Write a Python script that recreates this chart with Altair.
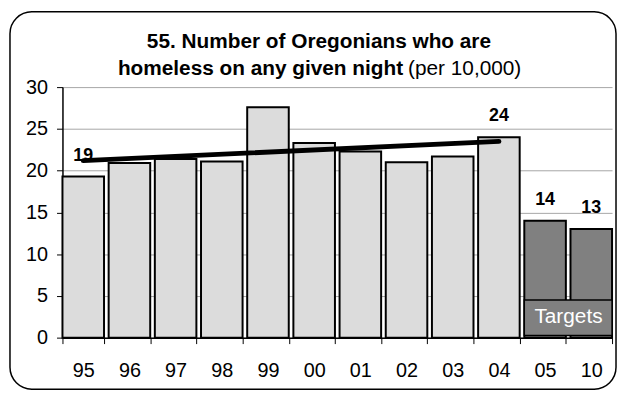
import altair as alt
import pandas as pd

# ---- data ----
years = ["95", "96", "97", "98", "99", "00", "01", "02", "03", "04", "05", "10"]
values = [19.3, 20.9, 21.4, 21.1, 27.6, 23.3, 22.3, 21.0, 21.7, 24.0, 14.0, 13.0]
kinds = ["actual"] * 10 + ["target"] * 2
labels = ["19", "", "", "", "", "", "", "", "", "24", "14", "13"]

trend_years = ["95", "04"]
trend_values = [21.2, 23.5]

title_line1 = "55. Number of Oregonians who are"
title_line2_bold = "homeless on any given night"
title_line2_normal = "(per 10,000)"
targets_text = "Targets"

FONT = "Liberation Sans"

df = pd.DataFrame({"year": years, "value": values, "kind": kinds, "label": labels})
trend_df = pd.DataFrame({"year": trend_years, "value": trend_values})

xscale = alt.Scale(domain=years, paddingInner=0.1, paddingOuter=0)
yscale = alt.Scale(domain=[0, 30])

x_enc = alt.X(
    "year:N",
    sort=years,
    scale=xscale,
    title=None,
    axis=alt.Axis(
        labelAngle=0,
        tickBand="extent",
        tickSize=6,
        labelPadding=17,
        labelFont=FONT,
        labelFontSize=20,
        labelColor="black",
        domainColor="black",
        domainWidth=1.5,
        tickColor="black",
        tickWidth=1,
        grid=False,
    ),
)

y_enc = alt.Y(
    "value:Q",
    scale=yscale,
    title=None,
    axis=alt.Axis(
        values=[0, 5, 10, 15, 20, 25, 30],
        tickSize=6,
        labelPadding=9,
        labelFont=FONT,
        labelFontSize=20,
        labelColor="black",
        domainColor="black",
        domainWidth=1.5,
        tickColor="black",
        gridColor="#a6a6a6",
        gridWidth=1,
    ),
)

bars = alt.Chart(df).mark_bar(stroke="black", strokeWidth=2).encode(
    x=x_enc,
    y=y_enc,
    fill=alt.Fill(
        "kind:N",
        scale=alt.Scale(domain=["actual", "target"], range=["#dcdcdc", "#808080"]),
        legend=None,
    ),
)

trend = alt.Chart(trend_df).mark_line(
    color="black", strokeWidth=5, strokeCap="round"
).encode(
    x=alt.X("year:N", sort=years, scale=xscale),
    y=alt.Y("value:Q", scale=yscale),
)

value_labels = alt.Chart(df).mark_text(
    font=FONT, fontSize=18, fontWeight="bold", color="black",
    baseline="alphabetic", dy=-16,
).encode(
    x=alt.X("year:N", sort=years, scale=xscale),
    y=alt.Y("value:Q", scale=yscale),
    text="label:N",
)

box_df = pd.DataFrame({"x1": ["05"], "x2": ["10"], "y1": [0.25], "y2": [4.5],
                       "t": [targets_text], "ty": [2.45]})

targets_box = alt.Chart(box_df).mark_rect(
    fill="#808080", stroke="black", strokeWidth=1.5
).encode(
    x=alt.X("x1:N", sort=years, scale=xscale, bandPosition=0),
    x2=alt.X2("x2:N", bandPosition=1),
    y=alt.Y("y1:Q", scale=yscale),
    y2="y2:Q",
)

targets_label = alt.Chart(box_df).mark_text(
    font=FONT, fontSize=21, color="white", baseline="middle", align="center", dx=-2
).encode(
    x=alt.X("x2:N", sort=years, scale=xscale, bandPosition=0),
    y=alt.Y("ty:Q", scale=yscale),
    text="t:N",
)

t1 = alt.Chart(alt.Data(values=[{"t": title_line1}])).mark_text(
    font=FONT, fontSize=21, fontWeight="bold", color="black",
    align="center", baseline="alphabetic",
).encode(x=alt.value(259), y=alt.value(-39), text="t:N")

t2a = alt.Chart(alt.Data(values=[{"t": title_line2_bold}])).mark_text(
    font=FONT, fontSize=21, fontWeight="bold", color="black",
    align="right", baseline="alphabetic",
).encode(x=alt.value(344), y=alt.value(-12), text="t:N")

t2b = alt.Chart(alt.Data(values=[{"t": title_line2_normal}])).mark_text(
    font=FONT, fontSize=21, color="black",
    align="left", baseline="alphabetic",
).encode(x=alt.value(349), y=alt.value(-12), text="t:N")

frame = alt.Chart(alt.Data(values=[{}])).mark_rect(
    fill="transparent", stroke="black", strokeWidth=1.5, cornerRadius=22
).encode(
    x=alt.value(-53), x2=alt.value(559), y=alt.value(-76), y2=alt.value(305)
)

chart = alt.layer(
    bars, trend, value_labels, targets_box, targets_label, t1, t2a, t2b, frame
).properties(
    width=555,
    height=253,
    autosize=alt.AutoSizeParams(type="none"),
    padding={"left": 55, "top": 78, "right": 5, "bottom": 53},
    background="white",
).configure_view(stroke=None)

chart.save("out.html", embed_options={"renderer": "svg", "actions": False})
